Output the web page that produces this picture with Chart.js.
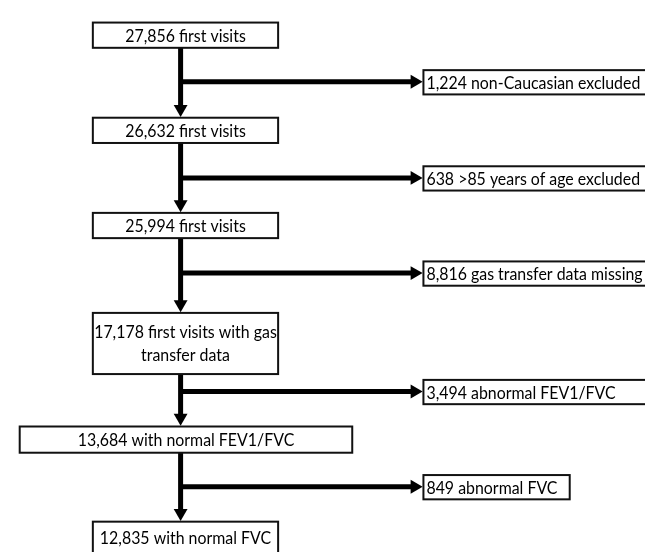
<!DOCTYPE html>
<html>
<head>
<meta charset="utf-8">
<script src="https://cdn.jsdelivr.net/npm/chart.js@4.4.1/dist/chart.umd.min.js"></script>
<style>
html, body { margin: 0; padding: 0; background: #fff; }
#wrap { width: 645px; height: 552px; position: relative; }
</style>
</head>
<body>
<div id="wrap"><canvas id="flow"></canvas></div>
<script>
// --- дані ---
var mainCounts = [27856, 26632, 25994, 17178, 13684, 12835];
var mainLabels = ['first visits', 'first visits', 'first visits', 'first visits with gas\ntransfer data', 'with normal FEV1/FVC', 'with normal FVC'];
var exclCounts = [1224, 638, 8816, 3494, 849];
var exclLabels = ['non-Caucasian excluded', '>85 years of age excluded', 'gas transfer data missing', 'abnormal FEV1/FVC', 'abnormal FVC'];

// --- розкладка (одиниці осей, 1 одиниця = 1px) ---
var spineX = 177;
var mainTop = [15, 113, 211, 314, 431, 529];
var mainBottom = [41, 139, 237, 377, 458, 562];
var mainLeft = [87, 87, 87, 87, 12, 87];
var mainRight = [277, 277, 277, 277, 353, 277];
var branchY = [76, 175, 273, 395, 493];
var exclLeft = 426;
var exclRight = [660, 660, 660, 660, 576];
var arrowR = 8;

var FONT = '17px Lato';
var SQUEEZE = 0.935; // Calibri трохи вужчий

function fmt(n) { return n.toLocaleString('en-US'); }

var datasets = [];

// вертикальні відрізки між головними блоками
for (var i = 0; i < mainCounts.length - 1; i++) {
    datasets.push({
        type: 'line', showLine: true, pointRadius: 0,
        borderColor: '#000', borderWidth: 5, borderCapStyle: 'butt',
        data: [{ x: spineX, y: mainBottom[i] }, { x: spineX, y: mainTop[i + 1] - 1 - arrowR }]
    });
}
// гілки до виключень
for (var j = 0; j < exclCounts.length; j++) {
    datasets.push({
        type: 'line', showLine: true, pointRadius: 0,
        borderColor: '#000', borderWidth: 5, borderCapStyle: 'butt',
        data: [{ x: spineX, y: branchY[j] }, { x: exclLeft - 1 - arrowR, y: branchY[j] }]
    });
}
// стрілки вниз
datasets.push({
    type: 'scatter', pointStyle: 'triangle', pointRotation: 180,
    pointRadius: arrowR, pointBackgroundColor: '#000', pointBorderWidth: 0,
    data: mainTop.slice(1).map(function (t) { return { x: spineX, y: t - 1 - arrowR }; })
});
// стрілки вправо
datasets.push({
    type: 'scatter', pointStyle: 'triangle', pointRotation: 90,
    pointRadius: arrowR, pointBackgroundColor: '#000', pointBorderWidth: 0,
    data: branchY.map(function (y) { return { x: exclLeft - 1 - arrowR, y: y }; })
});

function drawText(ctx, txt, x, y, align) {
    ctx.save();
    ctx.translate(x, y);
    ctx.scale(SQUEEZE, 1);
    ctx.textAlign = align;
    ctx.fillText(txt, 0, 0);
    ctx.restore();
}

var boxPlugin = {
    id: 'boxes',
    afterDatasetsDraw: function (chart) {
        var ctx = chart.ctx;
        var xs = chart.scales.x, ys = chart.scales.y;
        ctx.save();
        ctx.lineWidth = 2;
        ctx.strokeStyle = '#111';
        ctx.font = FONT;
        ctx.textBaseline = 'middle';

        // головні блоки
        mainCounts.forEach(function (c, k) {
            var x1 = xs.getPixelForValue(mainLeft[k]), x2 = xs.getPixelForValue(mainRight[k]);
            var y1 = ys.getPixelForValue(mainTop[k]), y2 = ys.getPixelForValue(mainBottom[k]);
            ctx.fillStyle = '#fff';
            ctx.fillRect(x1, y1, x2 - x1, y2 - y1);
            ctx.strokeRect(x1, y1, x2 - x1, y2 - y1);
            ctx.fillStyle = '#000';
            var lines = (fmt(c) + ' ' + mainLabels[k]).split('\n');
            var cx = (x1 + x2) / 2, cy = (y1 + y2) / 2;
            var lh = 23;
            lines.forEach(function (ln, n) {
                drawText(ctx, ln, cx, cy + (n - (lines.length - 1) / 2) * lh + 1, 'center');
            });
        });

        // блоки виключень
        exclCounts.forEach(function (c, k) {
            var x1 = xs.getPixelForValue(exclLeft), x2 = xs.getPixelForValue(exclRight[k]);
            var y1 = ys.getPixelForValue(branchY[k] - 12), y2 = ys.getPixelForValue(branchY[k] + 13);
            ctx.fillStyle = '#fff';
            ctx.fillRect(x1, y1, x2 - x1, y2 - y1);
            ctx.strokeRect(x1, y1, x2 - x1, y2 - y1);
            ctx.fillStyle = '#000';
            drawText(ctx, fmt(c) + ' ' + exclLabels[k], x1 + 3, (y1 + y2) / 2 + 1, 'left');
        });
        ctx.restore();
    }
};

var myChart = new Chart(document.getElementById('flow').getContext('2d'), {
    type: 'scatter',
    data: { datasets: datasets },
    options: {
        responsive: true,
        maintainAspectRatio: false,
        animation: false,
        events: [],
        layout: { padding: 0 },
        plugins: { legend: { display: false }, tooltip: { enabled: false } },
        scales: {
            x: { type: 'linear', display: false, min: 0, max: 645 },
            y: { type: 'linear', display: false, min: 0, max: 552, reverse: true }
        }
    },
    plugins: [boxPlugin]
});
</script>
</body>
</html>
